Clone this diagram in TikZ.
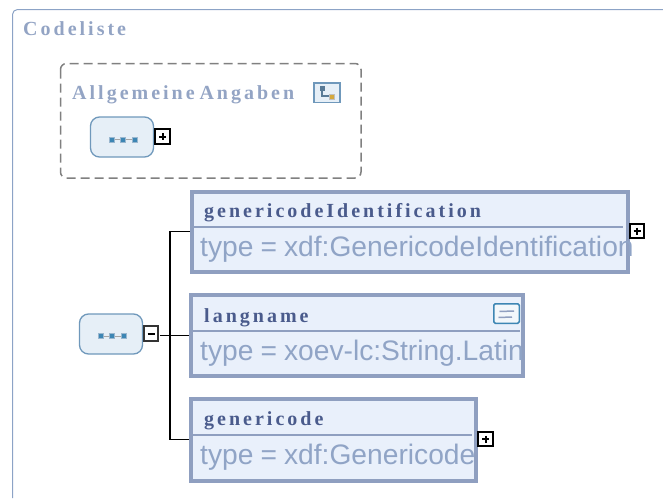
\documentclass[tikz,border=0pt]{standalone}
\usepackage{fontspec}
\setmainfont{Liberation Sans}
\newfontfamily\headfont[LetterSpace=15, WordSpace=0.6]{Liberation Serif}
\newfontfamily\typefont[WordSpace=0.9]{Liberation Sans}
\usepackage{tikz}
\definecolor{framecol}{HTML}{8CA3C6}
\definecolor{boxcol}{HTML}{8F9FC0}
\definecolor{boxfill}{HTML}{E9F0FB}
\definecolor{headcol}{HTML}{4A5B8C}
\definecolor{paleheadcol}{HTML}{93A4C4}
\definecolor{typecol}{HTML}{90A4C6}
\definecolor{seqcol}{HTML}{6F98BB}
\definecolor{seqfill}{HTML}{E6EFF7}
\definecolor{dotcol}{HTML}{3D86B4}
\definecolor{goldcol}{HTML}{D4A83C}
\tikzset{
    elembox/.style={draw=boxcol, line width=4pt, fill=boxfill, inner sep=0pt, outer sep=2pt},
    seqbox/.style={draw=seqcol, line width=1.3pt, fill=seqfill, rounded corners=9pt, minimum width=63pt, minimum height=40pt, inner sep=0pt},
    toggle/.style={draw=black, line width=2pt, fill=white, minimum size=14.5pt, inner sep=0pt, outer sep=1.5pt},
    togglemark/.style={black, line width=2pt},
    conn/.style={black, line width=1.6pt},
    headlabel/.style={anchor=base west, inner sep=0pt, font=\headfont\bfseries\fontsize{20}{22}\selectfont, text=headcol},
    palelabel/.style={headlabel, text=paleheadcol},
    typelabel/.style={anchor=base west, inner sep=0pt, font=\typefont\fontsize{28.2}{30}\selectfont, text=typecol},
    seqdot/.style={draw=seqcol!70, line width=0.5pt, fill=dotcol}
}
\begin{document}
\begin{tikzpicture}[x=1pt, y=-1pt]
    \useasboundingbox (0, 0) rectangle (663, 498);
    % Outer frame
    \draw[framecol, line width=1pt, rounded corners=5pt] (12.5, 498) -- (12.5, 9.5) -- (663, 9.5);
    \node[palelabel] (titleLabel) at (23, 35) {Codeliste};

    % Group
    \draw[gray, line width=1.5pt, dash pattern=on 9pt off 5pt, rounded corners=6pt] (60.5, 63.5) rectangle (361, 178);
    \node[palelabel] (groupLabel) at (72, 99.5) {Allgemeine Angaben};
    \node[draw=seqcol, line width=1.5pt, fill=seqfill, minimum width=26pt, minimum height=19.5pt, inner sep=0pt] (groupIcon) at (327, 92.5) {};
    \draw[seqcol!80!black, line width=1.2pt] (322, 88) |- (331.5, 96);
    \fill[seqcol!80!black] (319.5, 85.5) rectangle (324.5, 90.5);
    \draw[black!25, fill=goldcol] (329, 94) rectangle (334, 99);

    % Sequence in group
    \node[seqbox] (seqOne) at (122, 137) {};
    \node[toggle] (seqOnePlus) at (162.5, 136.5) {};
    \draw[togglemark] (159, 136.5) -- (166, 136.5) (162.5, 133) -- (162.5, 140);
    \draw[gray!70, line width=0.8pt] (112, 139.3) -- (134.7, 139.3);
    \foreach \xa in {112, 123, 134.7}
        \draw[seqdot] (\xa-2.5, 136.8) rectangle (\xa+2.5, 141.8);

    % Elements
    \node[elembox, minimum width=436pt, minimum height=80pt] (identBox) at (409.5, 231.5) {};
    \node[elembox, minimum width=332pt, minimum height=81pt] (langBox) at (357, 335.5) {};
    \node[elembox, minimum width=285pt, minimum height=82pt] (codeBox) at (333.5, 439.5) {};
    \draw[boxcol, line width=1.3pt] (191, 227) -- (623, 227);
    \draw[boxcol, line width=1.3pt] (191, 331) -- (520, 331);
    \draw[boxcol, line width=1.3pt] (191, 435) -- (472, 435);
    \node[headlabel] (identName) at (204, 217) {genericodeIdentification};
    \node[headlabel] (langName) at (204, 322) {langname};
    \node[headlabel] (codeName) at (204, 425) {genericode};
    \node[typelabel] (identType) at (200, 256) {type = xdf:GenericodeIdentification};
    \node[typelabel] (langType) at (200, 360) {type = xoev-lc:String.Latin};
    \node[typelabel] (codeType) at (200, 464) {type = xdf:Genericode};

    % Note icon
    \node[draw=dotcol, line width=1.5pt, fill=seqfill!50, rounded corners=1.5pt, minimum width=25.5pt, minimum height=19.5pt, inner sep=0pt] (noteIcon) at (506.5, 313.5) {};
    \draw[boxcol, line width=1.5pt] (499.5, 311.5) -- (514, 311) (498.5, 317.5) -- (512, 317);

    % Toggles of elements
    \node[toggle] (identPlus) at (637, 231) {};
    \draw[togglemark] (633.5, 231) -- (640.5, 231) (637, 227.5) -- (637, 234.5);
    \node[toggle] (codePlus) at (485.5, 439) {};
    \draw[togglemark] (482, 439) -- (489, 439) (485.5, 435.5) -- (485.5, 442.5);

    % Sequence with children
    \node[seqbox] (seqTwo) at (111, 334) {};
    \draw[gray!70, line width=0.8pt] (100.7, 336) -- (124, 336);
    \foreach \xa in {100.7, 112, 124}
        \draw[seqdot] (\xa-2.5, 333.5) rectangle (\xa+2.5, 338.5);
    \node[toggle, draw=black!80] (seqTwoMinus) at (151, 333.5) {};
    \draw[togglemark] (147.5, 333.5) -- (154.5, 333.5);

    % Connectors
    \coordinate (spine) at (170, 335.5);
    \draw[conn] (seqTwoMinus.east |- spine) -- (langBox.west);
    \draw[conn] (identBox.west) -| (spine);
    \draw[conn] (codeBox.west) -| (spine);
\end{tikzpicture}
\end{document}
